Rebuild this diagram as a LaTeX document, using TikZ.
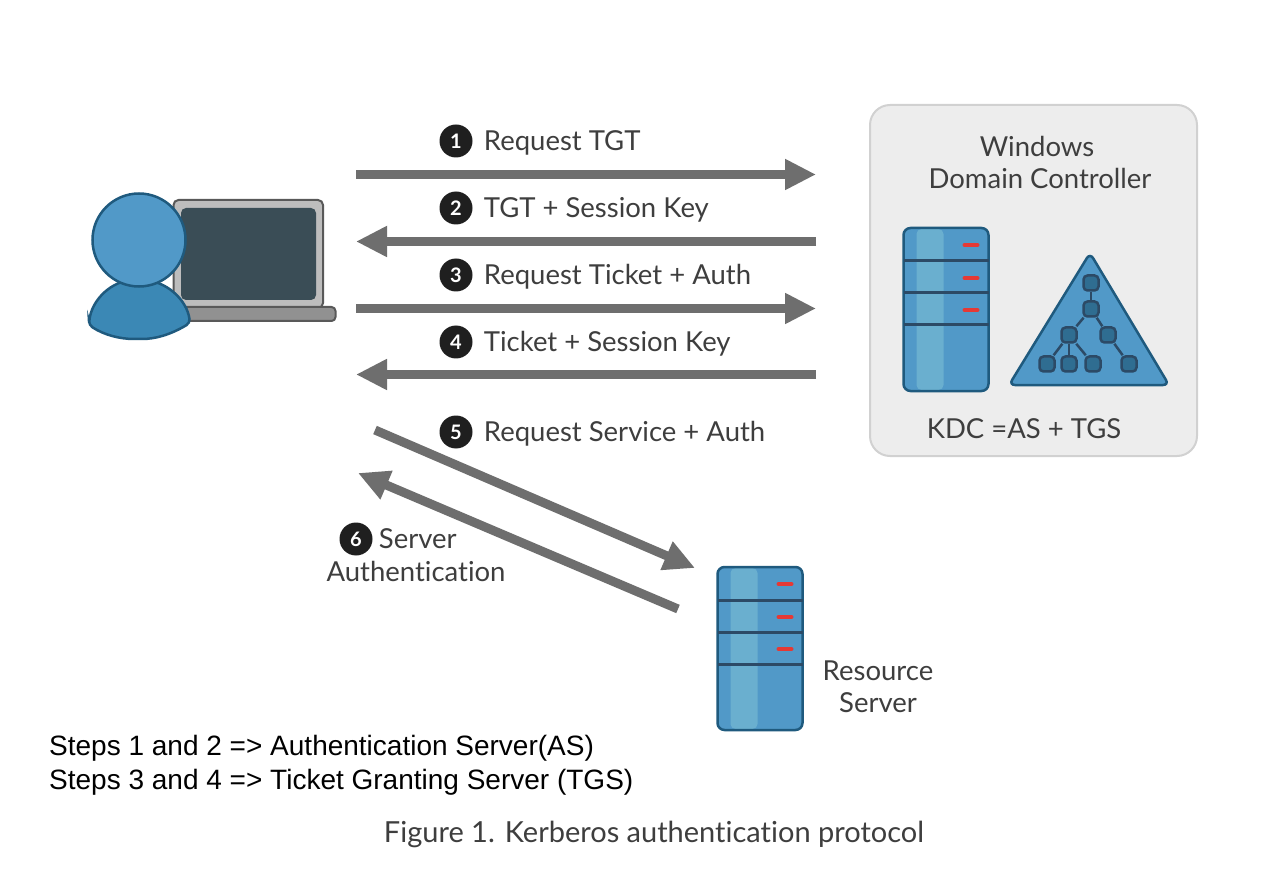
\documentclass[tikz,border=0pt]{standalone}
\usepackage{xcolor}
\usepackage{fontspec}
\setmainfont{Lato}[Ligatures=NoCommon]
\newfontfamily\arialfont{Liberation Sans}
\usetikzlibrary{arrows.meta,positioning,calc}
\definecolor{myblue}{RGB}{81,153,200}
\definecolor{mybluedk}{RGB}{59,136,181}
\definecolor{mybluelt}{RGB}{106,175,207}
\definecolor{myedge}{RGB}{31,90,126}
\definecolor{myrule}{RGB}{44,74,102}
\definecolor{mygray}{RGB}{110,110,110}
\definecolor{mytext}{RGB}{62,62,62}
\definecolor{myred}{RGB}{229,57,53}
\definecolor{myscreen}{RGB}{58,77,86}
\tikzset{
  flow/.style={draw=mygray, line width=9pt, -{Triangle[length=31pt,width=29pt]}},
  badge/.style={circle, fill=black!88, text=white, inner sep=0pt, minimum size=33pt, font=\fontsize{20}{20}\selectfont\bfseries},
  steplabel/.style={text=mytext, inner sep=0pt, font=\fontsize{27.5}{32}\selectfont},
  notelabel/.style={anchor=west, inner sep=0pt, font=\arialfont\fontsize{28}{32}\selectfont},
  treebox/.style={draw=myrule, line width=2.5pt, fill=mybluedk!80!black, rounded corners=4pt, minimum size=15pt, inner sep=0pt},
  serverrack/.pic={
    \fill[myblue, rounded corners=7pt] (0,0) rectangle (85,163);
    \fill[mybluelt, rounded corners=5pt] (13,1) rectangle (40,162);
    \draw[myedge, line width=2.5pt, rounded corners=7pt] (0,0) rectangle (85,163);
    \foreach \y in {33,65,97}{
      \draw[myrule, line width=3pt] (0,\y) -- (85,\y);
    }
    \foreach \y in {17,50,82}{
      \draw[myred, line width=4pt, line cap=round] (61,\y) -- (74,\y);
    }
  }
}
\begin{document}
\begin{tikzpicture}[x=1pt, y=-1pt]
  \useasboundingbox[fill=white] (0,0) rectangle (1282,874);

  % Domain controller box
  \node[draw=black!18, line width=2pt, fill=black!7, rounded corners=20pt, minimum width=327pt, minimum height=351pt, inner sep=0pt] (dcbox) at (1033.5,280.5) {};
  \node[steplabel] (dcname) at (1037,146) {Windows};
  \node[steplabel] (dcname2) at (1040,178) {Domain Controller};
  \node[steplabel] (kdc) at (1024,429) {KDC =AS + TGS};
  \pic at (903.5,228) {serverrack};

  % Directory triangle
  \draw[myedge, line width=2.5pt, fill=myblue, rounded corners=6pt] (1090,253) -- (1169,385) -- (1009,385) -- cycle;
  \foreach \n/\x/\y in {a/1091/283,b/1091/309,c/1069/335,d/1108/335,e/1047/364,f/1069/364,g/1093/364,h/1129/364}{
    \node[treebox] (tree\n) at (\x,\y) {};
  }
  \foreach \p/\q in {a/b,b/c,b/d,c/e,c/f,c/g,d/h}{
    \draw[myrule, line width=2.5pt] (tree\p) -- (tree\q);
  }

  % Laptop and user
  \draw[black!65, line width=2pt, fill=black!26, rounded corners=5pt] (173.5,200) rectangle (323,308);
  \fill[myscreen, rounded corners=5pt] (181,208) rectangle (316,300);
  \draw[black!65, line width=2pt, fill=black!43, rounded corners=4pt] (180,307) rectangle (335.5,321);
  \draw[myedge, line width=2.5pt, fill=mybluedk, rounded corners=4pt] (89,325) .. controls (91,300) and (112,280) .. (138,280) .. controls (166,280) and (187,300) .. (190,323) .. controls (170,335) and (155,339) .. (138,339) .. controls (120,339) and (104,335) .. (89,325) -- cycle;
  \node[circle, draw=myedge, line width=2.5pt, fill=myblue, minimum size=93pt, inner sep=0pt] (user) at (139,240) {};

  % Flow end points
  \foreach \n/\y in {a/174.5,b/241.5,c/308.5,d/374.5}{
    \coordinate (left\n) at (356,\y);
    \coordinate (right\n) at (816,\y);
  }
  \coordinate (svcstart) at (375,430);
  \coordinate (svcend) at (695,568);
  \coordinate (srvstart) at (678,609);
  \coordinate (srvend) at (358,473);

  \draw[flow] (lefta) -- (righta);
  \draw[flow] (rightb) -- (leftb);
  \draw[flow] (leftc) -- (rightc);
  \draw[flow] (rightd) -- (leftd);
  \draw[flow] (svcstart) -- (svcend);
  \draw[flow] (srvstart) -- (srvend);

  % Step labels
  \node[badge] (stepa) at (456,141) {1};
  \node[steplabel, right=11pt of stepa, yshift=-1.5pt] (texta) {Request TGT};
  \node[badge] (stepb) at (456,208) {2};
  \node[steplabel, right=11pt of stepb, yshift=-1.5pt] (textb) {TGT + Session Key};
  \node[badge] (stepc) at (456,275) {3};
  \node[steplabel, right=11pt of stepc, yshift=-1.5pt] (textc) {Request Ticket + Auth};
  \node[badge] (stepd) at (456,342) {4};
  \node[steplabel, right=11pt of stepd, yshift=-1.5pt] (textd) {Ticket + Session Key};
  \node[badge] (stepe) at (456,432) {5};
  \node[steplabel, right=11pt of stepe, yshift=-1.5pt] (texte) {Request Service + Auth};
  \node[badge] (stepf) at (356,539) {6};
  \node[steplabel, right=6pt of stepf] (textf) {Server};
  \node[steplabel] (textg) at (416,571) {Authentication};

  % Resource server
  \pic at (717.5,567) {serverrack};
  \node[steplabel] (resa) at (878,671) {Resource};
  \node[steplabel] (resb) at (878,703) {Server};

  % Notes and caption
  \node[notelabel] (notea) at (49,748) {Steps 1 and 2 => Authentication Server(AS)};
  \node[notelabel] (noteb) at (49,782) {Steps 3 and 4 => Ticket Granting Server (TGS)};
  \node[steplabel, font=\fontsize{29}{32}\selectfont] (caption) at (654,834) {Figure 1. Kerberos authentication protocol};
\end{tikzpicture}
\end{document}
